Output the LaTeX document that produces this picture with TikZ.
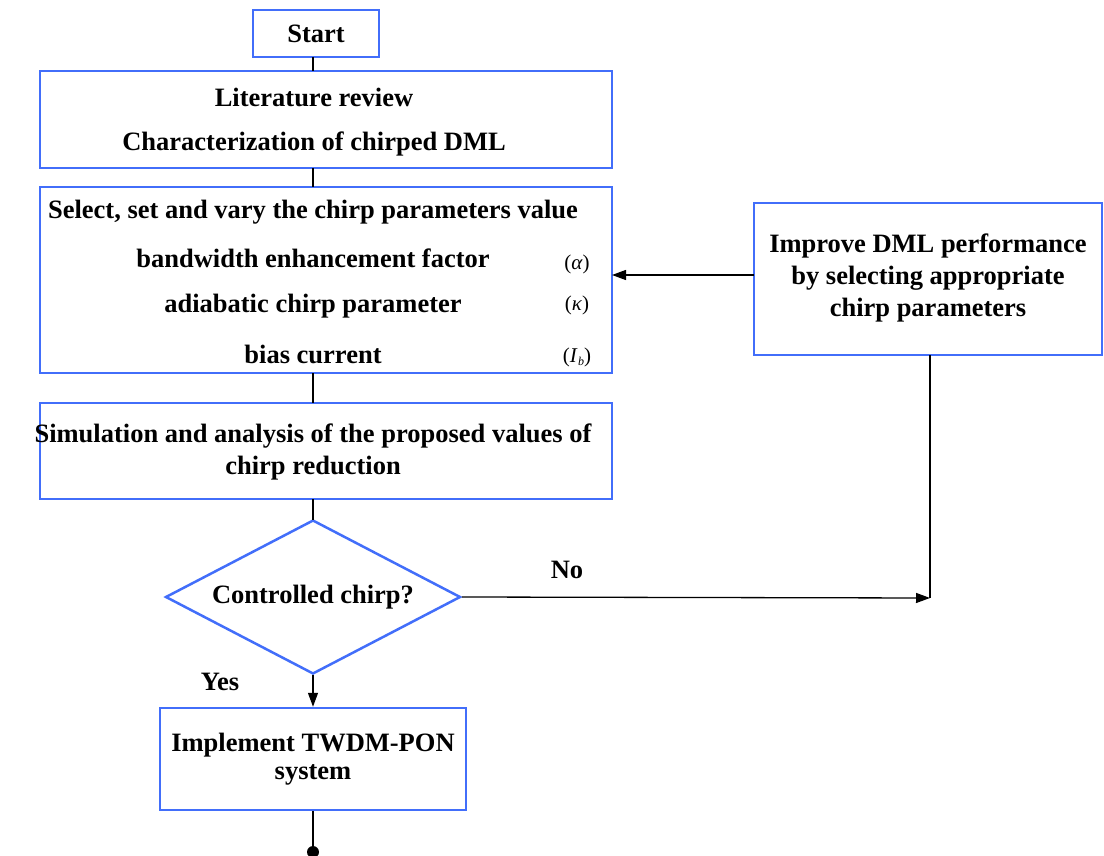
\documentclass[tikz,border=0pt]{standalone}
\usepackage{fontspec}
\setmainfont{Liberation Serif}
\usetikzlibrary{shapes.geometric,arrows.meta}
\definecolor{boxblue}{RGB}{66,110,250}
\begin{document}
\begin{tikzpicture}[x=1pt,y=-1pt,
  box/.style={draw=boxblue,line width=2.5pt,fill=white,inner sep=0pt,align=center},
  txt/.style={font=\fontsize{26.5}{30}\selectfont\bfseries,inner sep=0pt},
  sym/.style={font=\fontsize{21}{24}\selectfont,inner sep=0pt},
  conn/.style={draw=black,line width=1.3pt},
  arr/.style={conn,-{Triangle[length=14pt,width=10pt]}}]
\useasboundingbox (0,0) rectangle (1104,856);
% boxes
\node[box,minimum width=126pt,minimum height=47pt] (start) at (316,33.5) {};
\node[box,minimum width=572pt,minimum height=97pt] (lit) at (326,119.5) {};
\node[box,minimum width=572pt,minimum height=186pt] (sel) at (326,280) {};
\node[box,minimum width=572pt,minimum height=96pt] (sim) at (326,451) {};
\node[box,diamond,aspect=1.92,minimum width=295pt,minimum height=154pt] (dec) at (313,597) {};
\node[box,minimum width=306pt,minimum height=102pt] (implbox) at (313,759) {};
\node[box,minimum width=348pt,minimum height=152pt] (imp) at (928,279) {};
% texts
\node[txt] (tstart) at (316,34) {Start};
\node[txt] (tl1) at (314,97) {Literature review};
\node[txt] (tl2) at (314,144) {Characterization of chirped DML};
\node[txt] (ts1) at (313,212) {Select, set and vary the chirp parameters value};
\node[txt] (ts2) at (313,258) {bandwidth enhancement factor};
\node[txt] (ts3) at (313,306) {adiabatic chirp parameter};
\node[txt] (ts4) at (313,354) {bias current};
\node[sym] (sa) at (577,264) {(\textit{α})};
\node[sym] (sk) at (577,305) {(\textit{κ})};
\node[sym] (sb) at (577,357) {(\textit{I}\kern0.5pt\raisebox{-3pt}{\fontsize{12}{13}\selectfont\textit{b}})};
\node[txt] (tm1) at (313,436) {Simulation and analysis of the proposed values of};
\node[txt] (tm2) at (313,468) {chirp reduction};
\node[txt] (td) at (313,597) {Controlled chirp?};
\node[txt] (ti1) at (313,745) {Implement TWDM-PON};
\node[txt] (ti2) at (313,775) {system};
\node[txt] (tp1) at (928,246) {Improve DML performance};
\node[txt] (tp2) at (928,278) {by selecting appropriate};
\node[txt] (tp3) at (928,310) {chirp parameters};
\node[txt] (no) at (567,570) {No};
\node[txt] (yes) at (220,682) {Yes};
% connectors
\coordinate (c1) at (313,57);
\coordinate (c2) at (313,71);
\coordinate (c3) at (313,168);
\coordinate (c4) at (313,187);
\coordinate (c5) at (313,373);
\coordinate (c6) at (313,403);
\coordinate (c7) at (313,499);
\coordinate (c8) at (313,520);
\coordinate (corner) at (930,598);
\coordinate (impb) at (930,355);
\coordinate (endpt) at (313,852);
\coordinate (impleft) at (754,275);
\coordinate (selr) at (612,275);
\draw[conn] (c1) -- (c2);
\draw[conn] (c3) -- (c4);
\draw[conn] (c5) -- (c6);
\draw[conn] (c7) -- (c8);
\draw[arr] (dec.south) -- (implbox.north);
\draw[conn] (implbox.south) -- (endpt);
\fill (endpt) circle (6pt);
\draw[arr] (dec.east) -- (corner);
\draw[conn] (impb) -- (corner);
\draw[arr] (impleft) -- (selr);
\end{tikzpicture}
\end{document}
